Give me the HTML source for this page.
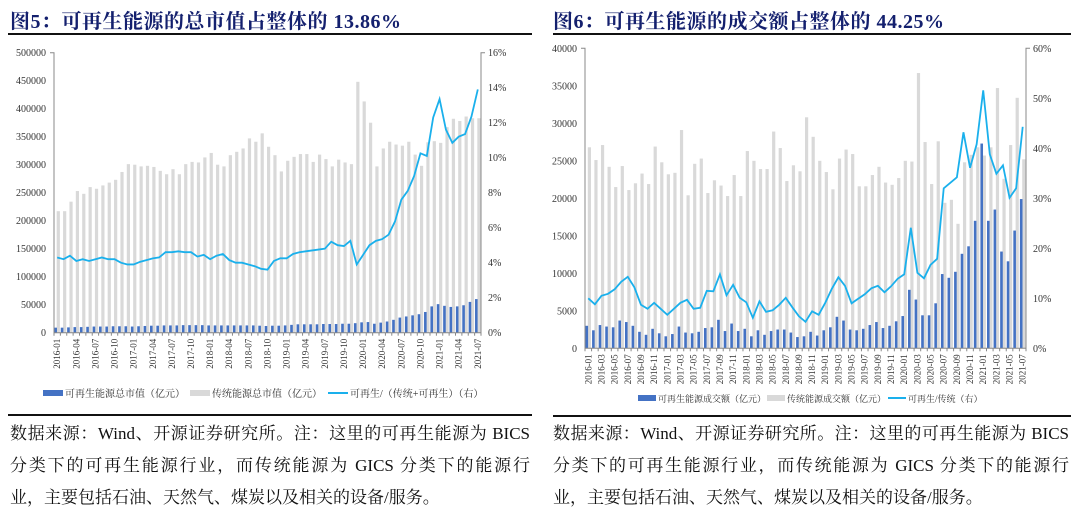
<!DOCTYPE html>
<html><head><meta charset="utf-8">
<style>
body{margin:0;width:1080px;height:514px;background:#fff;overflow:hidden;font-family:"Liberation Serif","Noto Serif CJK SC",serif;position:relative}
.title{position:absolute;top:5px;font-size:20px;font-weight:bold;color:#14206e;font-family:"Liberation Serif","Noto Serif CJK SC",serif;white-space:nowrap;letter-spacing:0.5px}
.rule{position:absolute;height:2px;background:#111}
.note{position:absolute;top:418px;width:520px;font-size:17px;line-height:32px;color:#111}
.note div{text-align:justify;text-align-last:justify;white-space:nowrap;overflow:visible}
.note div.last{text-align-last:left}
svg{position:absolute;left:0;top:0}
svg text{font-family:"Liberation Serif","Noto Serif CJK SC",serif;fill:#333}
</style></head><body>
<div class="title" style="left:10px">图5：可再生能源的总市值占整体的 13.86%</div>
<div class="rule" style="left:8px;width:524px;top:33px"></div>
<div class="title" style="left:553px">图6：可再生能源的成交额占整体的 44.25%</div>
<div class="rule" style="left:553px;width:518px;top:33px"></div>
<div class="rule" style="left:8px;width:524px;top:414px;height:1.5px"></div>
<div class="rule" style="left:553px;width:518px;top:415px;height:1.5px"></div>
<div class="note" style="left:10px"><div>数据来源：Wind、开源证券研究所。注：这里的可再生能源为 BICS</div><div>分类下的可再生能源行业，而传统能源为 GICS 分类下的能源行</div><div class="last">业，主要包括石油、天然气、煤炭以及相关的设备/服务。</div></div>
<div class="note" style="left:553px;width:516px"><div>数据来源：Wind、开源证券研究所。注：这里的可再生能源为 BICS</div><div>分类下的可再生能源行业，而传统能源为 GICS 分类下的能源行</div><div class="last">业，主要包括石油、天然气、煤炭以及相关的设备/服务。</div></div>
<svg id="chart" width="1080" height="514"></svg>
<script>
const months=[];for(let y=2016;y<=2021;y++)for(let m=1;m<=12;m++){if(y===2021&&m>7)break;months.push(y+'-'+String(m).padStart(2,'0'));}
// Left chart (market cap, 亿元)
const capRenew=[9,9,9.5,10,10,10.5,11,11,11,11.5,11.5,11.5,11,11.5,12,12.5,12.5,13,13,13,13.5,13.5,13.5,13.5,13,13,13,13,13,13,13,13,12.5,12,12.5,12.5,13,14,15,15,15,15,15.5,15.5,15.5,16,16,17,18.5,19,16,18,20,23,27,29,31,33,37,47,51,48,46,47,49,55,60].map(v=>v*1000);
const capTrad=[217,217,234,253,248,260,257,263,268,273,287,301,300,297,298,296,289,283,292,283,301,305,304,313,321,300,297,317,323,329,347,341,356,332,317,288,307,314,319,319,305,318,310,297,309,304,301,448,413,375,297,329,341,336,334,341,318,298,340,342,339,367,382,378,386,383,383].map(v=>v*1000);
const capShare=[4.3,4.2,4.4,4.1,4.2,4.1,4.2,4.3,4.2,4.2,4.0,3.9,3.9,4.05,4.15,4.25,4.3,4.6,4.6,4.65,4.6,4.6,4.35,4.45,4.2,4.4,4.5,4.15,4.0,4.0,3.9,3.8,3.65,3.6,4.1,4.25,4.25,4.5,4.6,4.65,4.7,4.75,4.8,5.2,5.0,4.95,5.25,3.9,4.45,5.0,5.25,5.35,5.6,6.35,7.6,8.1,8.95,10.25,10.1,12.3,13.35,11.6,10.85,11.2,11.35,12.35,13.9];
const capLeftTicks=[0,50000,100000,150000,200000,250000,300000,350000,400000,450000,500000];
const capRightTicks=[0,2,4,6,8,10,12,14,16];
// Right chart (turnover, 亿元)
const volRenew=[3.0,2.4,3.1,2.9,2.8,3.7,3.5,3.0,2.2,1.8,2.6,2.0,1.6,1.9,2.9,2.1,2.0,2.2,2.7,2.8,3.8,2.3,3.3,2.3,2.6,1.6,2.4,1.8,2.3,2.5,2.5,2.1,1.5,1.6,2.2,1.7,2.4,2.8,4.2,3.7,2.5,2.4,2.6,3.1,3.5,2.7,3.0,3.6,4.3,7.8,6.5,4.4,4.4,6.0,9.9,9.4,10.2,12.6,13.6,17.0,27.3,17.0,18.5,12.9,11.6,15.7,19.9].map(v=>v*1000);
const volTrad=[26.8,25.1,27.1,24.2,21.5,24.3,21.1,22.0,23.3,21.9,26.9,24.8,23.2,23.4,29.1,20.4,24.6,25.3,20.7,22.4,21.7,20.3,23.1,20.3,26.3,25.0,23.9,23.9,28.9,26.7,22.3,24.4,23.6,30.8,28.2,25.0,23.5,21.2,25.3,26.5,25.9,21.6,21.6,23.1,24.2,22.1,21.8,22.7,25.0,24.9,36.7,27.5,21.9,27.6,19.4,19.8,16.6,24.8,25.8,26.8,25.7,26.8,34.7,22.6,27.1,33.4,25.2].map(v=>v*1000);
const volShare=[10,8.8,10.5,10.9,11.8,13.3,14.3,12.2,8.7,7.9,9.1,7.9,6.7,7.9,9.1,9.7,7.9,8.1,11.5,11.4,14.8,10.6,12.7,10.1,9.2,6.1,9.4,7.3,7.6,8.7,10.1,8.2,6.4,5.3,7.4,6.7,9.1,11.9,14.2,12.5,9.0,9.9,10.8,12.0,12.5,11.2,12.4,13.9,14.8,24.1,15.1,14.0,16.7,17.9,32,33.1,34.2,43.2,36.1,40.8,51.6,38.8,34.9,36.6,30.1,32.0,44.3];
const volLeftTicks=[0,5000,10000,15000,20000,25000,30000,35000,40000];
const volRightTicks=[0,10,20,30,40,50,60];

const svg=document.getElementById('chart');const NS='http://www.w3.org/2000/svg';
function mk(tag,attrs,parent){const e=document.createElementNS(NS,tag);for(const k in attrs)e.setAttribute(k,attrs[k]);(parent||svg).appendChild(e);return e;}
function draw(cfg){
  const g=mk('g',{});
  
  
  const n=months.length,band=(cfg.x1-cfg.x0)/n;
  const yL=v=>cfg.yb-(v/cfg.lmax)*(cfg.yb-cfg.yt);
  const yR=v=>cfg.yb-(v/cfg.rmax)*(cfg.yb-cfg.yt);
  const xc=i=>cfg.x0+band*(i+0.5);
  for(let i=0;i<n;i++){
    const r=mk('rect',{x:xc(i)-0.5,y:yL(cfg.trad[i]),width:3.2,height:cfg.yb-yL(cfg.trad[i]),fill:'#d9d9d9'},g);
    
    
    const b=mk('rect',{x:xc(i)-2.8,y:yL(cfg.renew[i]),width:2.6,height:cfg.yb-yL(cfg.renew[i]),fill:'#4472c4'},g);
    
    
  }
  const ax=mk('path',{d:`M${cfg.x0-4},${cfg.yt}H${cfg.x0}V${cfg.yb}H${cfg.x1}V${cfg.yt}H${cfg.x1+4}`,stroke:'#888',fill:'none','stroke-width':1},g);
  
  
  for(let i=0;i<=n;i++){mk('line',{x1:cfg.x0+band*i,x2:cfg.x0+band*i,y1:cfg.yb,y2:cfg.yb+3,stroke:'#888'},g);}
  cfg.lt.forEach(v=>{const t=mk('text',{x:cfg.x0-8,y:yL(v)+3.5,'text-anchor':'end','font-size':10},g);t.textContent=v;
    });
  cfg.rt.forEach(v=>{const t=mk('text',{x:cfg.x1+7,y:yR(v)+3.5,'font-size':10},g);t.textContent=v+'%';
    });
  months.forEach((m,i)=>{if(i%cfg.step)return;const x=xc(i)+3,y=cfg.yb+6;
    const t=mk('text',{x:x,y:y,'text-anchor':'end','font-size':9,transform:`rotate(-90 ${x} ${y})`},g);t.textContent=m;
    });
  const p=mk('polyline',{points:cfg.share.map((v,i)=>xc(i)+','+yR(v)).join(' '),fill:'none',stroke:'#1ab0ec','stroke-width':1.8},g);
  
  
  const L=cfg.leg;let x=L.x;
  [['rect','#4472c4'],['rect','#d9d9d9'],['line','#1ab0ec']].forEach((s,k)=>{
    const lg=mk('g',{},g);
    
    
    if(s[0]==='rect')mk('rect',{x:x,y:L.y-3,width:L.sw,height:6,fill:s[1]},lg);
    else mk('line',{x1:x,x2:x+L.sw,y1:L.y,y2:L.y,stroke:s[1],'stroke-width':2},lg);
    const t=mk('text',{x:x+L.sw+2,y:L.y+4,'font-size':L.fs},lg);t.textContent=L.labels[k];
    x+=L.gaps[k];
  });
}
draw({name:'market-cap-chart',x0:54,x1:481,yt:52.7,yb:332.7,lmax:500000,rmax:16,renew:capRenew,trad:capTrad,share:capShare,lt:capLeftTicks,rt:capRightTicks,step:3,
  leg:{x:43,y:393,sw:20,fs:10,gaps:[147,138,0],labels:['可再生能源总市值（亿元）','传统能源总市值（亿元）','可再生/（传统+可再生）（右）']}});
draw({name:'turnover-chart',x0:585,x1:1026,yt:48.3,yb:348.3,lmax:40000,rmax:60,renew:volRenew,trad:volTrad,share:volShare,lt:volLeftTicks,rt:volRightTicks,step:2,
  leg:{x:638,y:398,sw:18,fs:9,gaps:[129,121,0],labels:['可再生能源成交额（亿元）','传统能源成交额（亿元）','可再生/传统（右）']}});
</script>
</body></html>
